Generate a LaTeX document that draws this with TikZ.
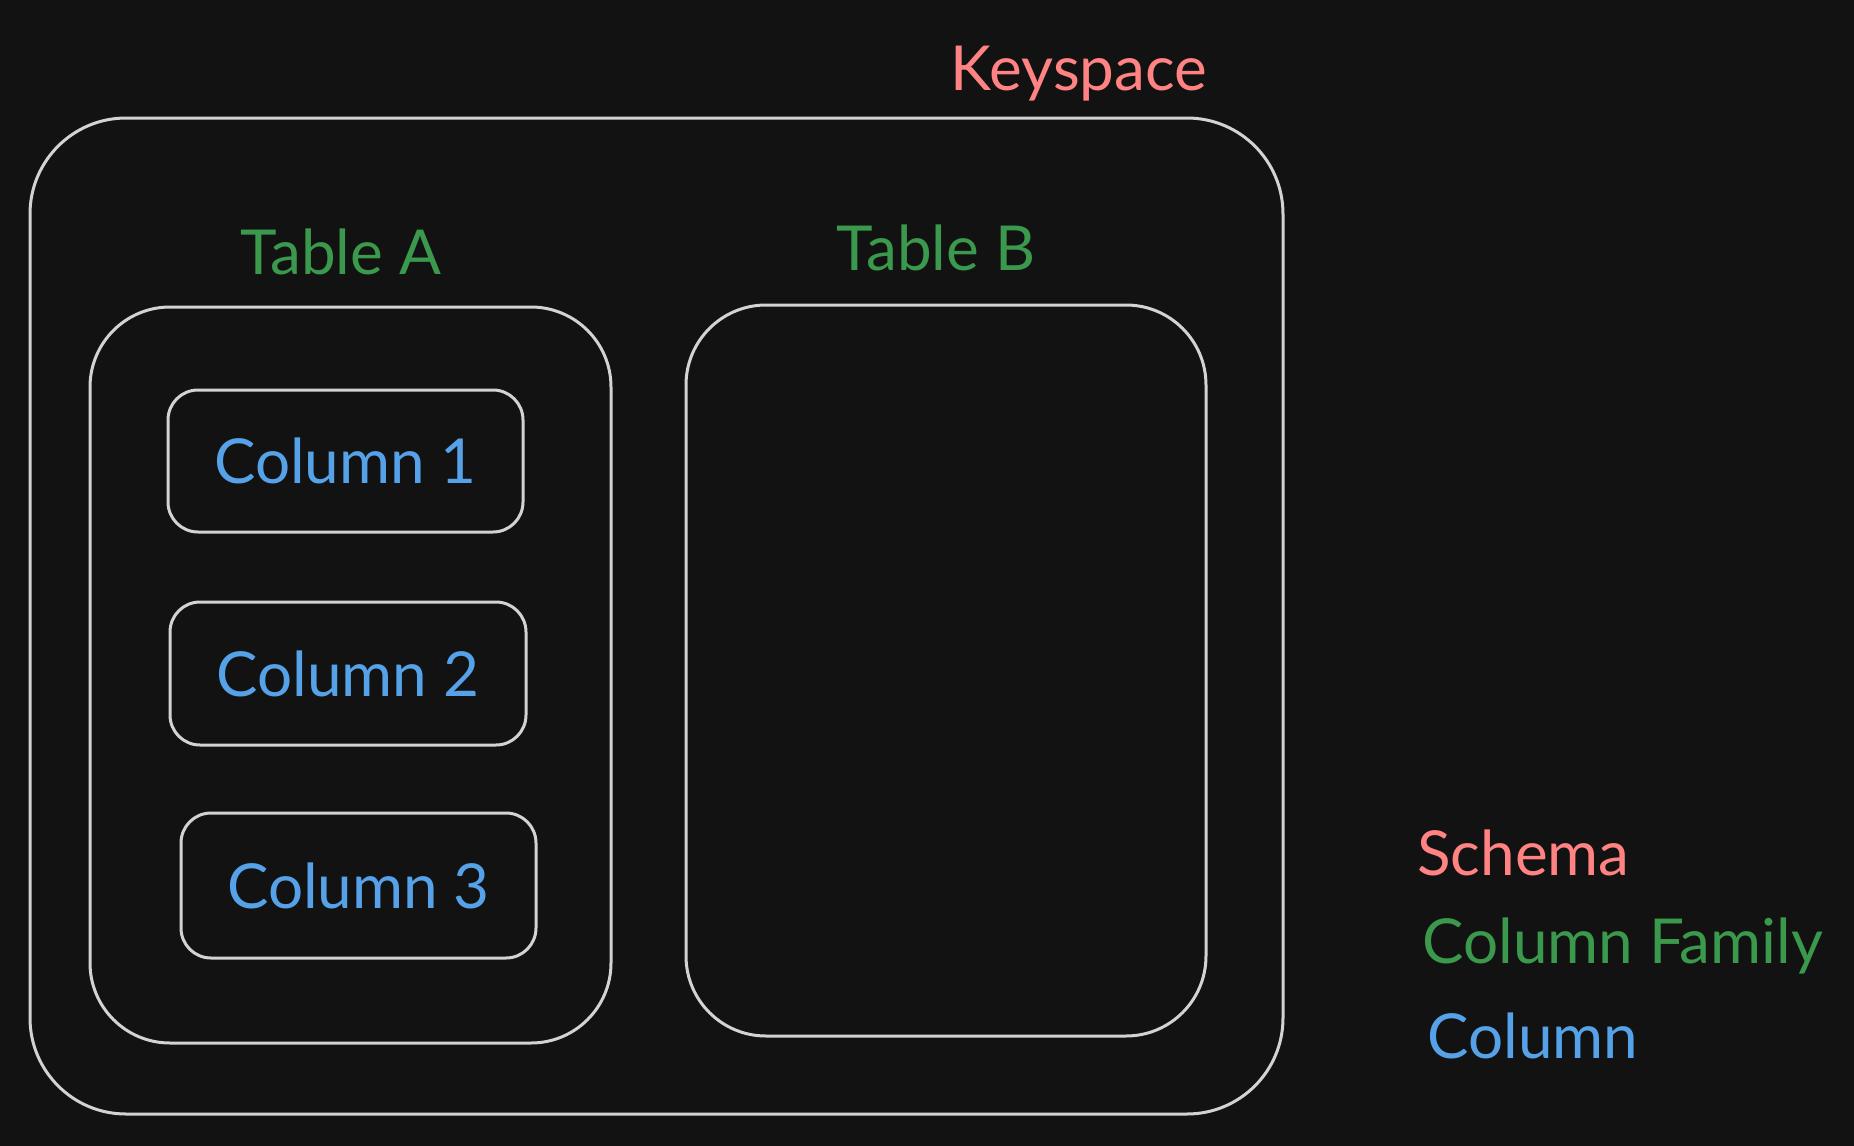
\documentclass[tikz,border=0pt]{standalone}
\usepackage{fontspec}
\setmainfont{Lato}
\usepackage{tikz}
\usetikzlibrary{positioning}
\definecolor{bgc}{HTML}{121212}
\definecolor{lnc}{HTML}{D3D3D3}
\definecolor{cR}{HTML}{FF8383}
\definecolor{cG}{HTML}{3A994C}
\definecolor{cB}{HTML}{56A2E8}
\tikzset{
  sketch/.style={draw=lnc,line width=1.5pt,inner sep=0pt},
  big/.style={sketch,rounded corners=48pt},
  mid/.style={sketch,rounded corners=40pt},
  small/.style={sketch,rounded corners=15pt,font=\fontsize{31}{37}\selectfont,text=cB},
  lbl/.style={font=\fontsize{31}{37}\selectfont,inner sep=0pt},
}

\begin{document}
\begin{tikzpicture}[x=0.5pt,y=-0.5pt]
  \fill[bgc] (0,0) rectangle (1854,1146);
  \useasboundingbox (0,0) rectangle (1854,1146);
  % keyspace with two tables
  \node[big,minimum width=626.5pt,minimum height=498pt] (ks) at (656.5,616) {};
  \node[lbl,text=cR,anchor=base] (ksl) at (1079,90) {Keyspace};
  \node[mid,minimum width=260.5pt,minimum height=368pt] (ta) at (350.5,675) {};
  \node[lbl,text=cG,anchor=base] (tal) at (341,274) {Table A};
  \node[mid,minimum width=260pt,minimum height=365.5pt] (tb) at (946,670.5) {};
  \node[lbl,text=cG,anchor=base] (tbl) at (936,270) {Table B};
  % columns
  \node[small,minimum width=177.5pt,minimum height=71pt] (c1) at (345.5,461) {Column 1};
  \node[small,minimum width=178pt,minimum height=71.5pt] (c2) at (348,673.5) {Column 2};
  \node[small,minimum width=177.5pt,minimum height=72.5pt] (c3) at (358.5,885.5) {Column 3};
  % legend
  \node[lbl,text=cR,anchor=base west] (lg1) at (1417,875) {Schema};
  \node[lbl,text=cG,anchor=base west] (lg2) at (1422,963) {Column Family};
  \node[lbl,text=cB,anchor=base west] (lg3) at (1427,1058) {Column};
\end{tikzpicture}
\end{document}
